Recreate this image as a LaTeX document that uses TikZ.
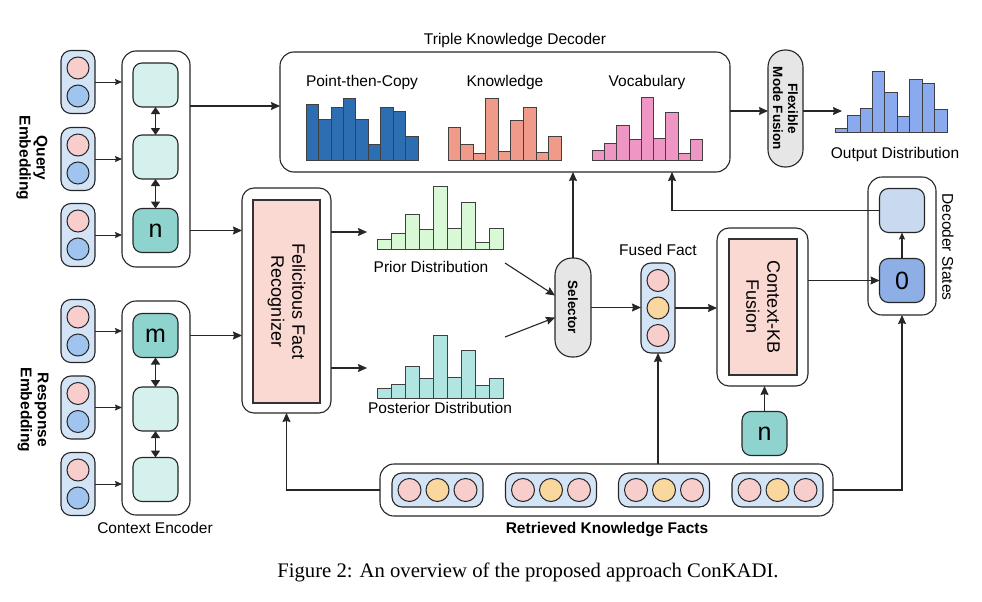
\documentclass[tikz,border=0pt]{standalone}
\usepackage{fontspec}
\setmainfont{Liberation Sans}
\newfontfamily\capfont{Liberation Serif}
\usetikzlibrary{arrows.meta,calc}
\definecolor{pillblue}{RGB}{212,228,247}
\definecolor{cpink}{RGB}{248,206,204}
\definecolor{cblue}{RGB}{160,196,240}
\definecolor{corange}{RGB}{249,215,158}
\definecolor{celllight}{RGB}{213,241,238}
\definecolor{celldark}{RGB}{142,211,206}
\definecolor{salmonbg}{RGB}{251,217,211}
\definecolor{graypill}{RGB}{230,230,230}
\definecolor{dslight}{RGB}{201,217,239}
\definecolor{dsdark}{RGB}{142,174,230}
\definecolor{barptc}{RGB}{45,110,178}
\definecolor{barkn}{RGB}{240,154,138}
\definecolor{barvoc}{RGB}{240,150,196}
\definecolor{barout}{RGB}{138,170,240}
\definecolor{barprior}{RGB}{216,248,214}
\definecolor{barpost}{RGB}{176,229,226}
\newcommand\drawbars[5]{\foreach \h [count=\i from 0] in {#5} {\draw[bar,fill=#4] ({#1+\i*#3},#2) rectangle ++(#3,-\h);}}
\begin{document}
\begin{tikzpicture}[x=1pt,y=-1pt,
  ln/.style={line width=1.1pt, draw=black!85},
  arr/.style={ln, -{Stealth[length=9pt,width=8pt,inset=1pt]}},
  sarr/.style={ln, line width=0.9pt, -{Stealth[length=7pt,width=6pt,inset=1pt]}},
  darr/.style={ln, line width=1.5pt, {Triangle[length=7pt,width=9pt]}-{Triangle[length=7pt,width=9pt]}},
  pill/.style={draw=black!85, line width=1.1pt, fill=pillblue, rounded corners=10pt, inner sep=0, outer sep=0},
  dot/.style={circle, draw=black!85, line width=1pt, minimum size=22pt, inner sep=0},
  frame/.style={draw=black!85, line width=1.1pt, rounded corners=14pt, inner sep=0, outer sep=0, fill=white},
  cell/.style={draw=black!85, line width=1.1pt, rounded corners=9pt, inner sep=0, outer sep=0, minimum width=45pt, minimum height=44pt, font=\fontsize{25}{28}\selectfont},
  inner/.style={draw=black!80, line width=1.1pt, fill=salmonbg, inner sep=0, outer sep=0},
  gpill/.style={draw=black!85, line width=1.1pt, fill=graypill, rounded corners=17pt, inner sep=0, outer sep=0},
  bar/.style={draw=black!75, line width=0.7pt},
  lab/.style={font=\fontsize{15.5}{18}\selectfont, inner sep=0},
  blab/.style={font=\bfseries\fontsize{15.5}{17}\selectfont, inner sep=0, align=center},
  big/.style={font=\fontsize{18}{21}\selectfont, inner sep=0, align=center, rotate=-90}
]
\useasboundingbox (0,0) rectangle (982,602);

% ---------- Query side ----------
\node[frame, minimum width=68pt, minimum height=216pt] (encq) at (156,159) {};
\node[frame, minimum width=68pt, minimum height=214pt] (encr) at (156,408) {};
\node[cell, fill=celllight] (qc1) at (155.5,85) {};
\node[cell, fill=celllight] (qc2) at (155.5,157) {};
\node[cell, fill=celldark] (qc3) at (155.5,230.5) {n};
\node[cell, fill=celldark] (rc1) at (155.5,335.5) {m};
\node[cell, fill=celllight] (rc2) at (155.5,409) {};
\node[cell, fill=celllight] (rc3) at (155.5,479.5) {};
\draw[darr] (qc1.south) -- (qc2.north);
\draw[darr] (qc2.south) -- (qc3.north);
\draw[darr] (rc1.south) -- (rc2.north);
\draw[darr] (rc2.south) -- (rc3.north);

\foreach \nm/\y in {q1/82, q2/159, q3/235, r1/331, r2/407.5, r3/484} {
  \node[pill, minimum width=34pt, minimum height=63pt] (\nm) at (78,\y) {};
  \node[dot, fill=cpink] (\nm a) at (78,\y-14) {};
  \node[dot, fill=cblue] (\nm b) at (78,\y+14) {};
}
\draw[sarr] (q1.east) -- (q1.east -| encq.west);
\draw[sarr] (q2.east) -- (q2.east -| encq.west);
\draw[sarr] (q3.east) -- (q3.east -| encq.west);
\draw[sarr] (r1.east) -- (r1.east -| encr.west);
\draw[sarr] (r2.east) -- (r2.east -| encr.west);
\draw[sarr] (r3.east) -- (r3.east -| encr.west);

\node[blab, rotate=-90] (qlab) at (32,158) {Query\\Embedding};
\node[blab, rotate=-90] (rlab) at (33,410) {Response\\Embedding};
\node[lab] (celab) at (155,528) {Context Encoder};

% ---------- Triple Knowledge Decoder ----------
\node[frame, minimum width=450pt, minimum height=120pt] (dec) at (505,112) {};
\node[lab] (declab) at (515,40) {Triple Knowledge Decoder};
\node[lab] (ptclab) at (362,82) {Point-then-Copy};
\node[lab] (knlab) at (505,82) {Knowledge};
\node[lab] (voclab) at (647,82) {Vocabulary};
\drawbars{306}{160}{12.45}{barptc}{56,41,53,62,41,16,53,49,24}
\drawbars{448}{160}{12.55}{barkn}{33,16,7,62,9,40,53,8,24}
\drawbars{592}{160}{12.3}{barvoc}{10,17,35,21,63,22,48,7,21}
\draw[arr] ([yshift=53pt]encq.east) -- ([yshift=6pt]dec.west);

% ---------- Flexible Mode Fusion ----------
\node[gpill, minimum width=35pt, minimum height=117pt] (flex) at (785.5,108.5) {};
\node[font=\bfseries\fontsize{13.5}{15}\selectfont, align=center, rotate=-90, inner sep=0] (flexlab) at (flex.center) {Flexible\\Mode Fusion};
\coordinate (outin) at (842,111);
\draw[arr] (dec.east |- outin) -- (flex.west |- outin);
\draw[arr] (flex.east |- outin) -- (outin);
\drawbars{835}{132}{12.45}{barout}{4,17,24,61,40,16,53,49,23}
\node[lab] (outlab) at (895,154) {Output Distribution};

% ---------- Decoder States ----------
\node[frame, minimum width=68pt, minimum height=138pt] (dso) at (902,246) {};
\node[cell, fill=dslight] (dtop) at (902,210.5) {};
\node[cell, fill=dsdark] (d0) at (902,280.5) {0};
\draw[sarr, line width=1.1pt] (d0.north) -- (dtop.south);
\node[lab, rotate=-90] (dslab) at (948,247) {Decoder States};
\draw[arr] (dtop.west) -| ([xshift=167pt]dec.south);

% ---------- Felicitous Fact Recognizer ----------
\node[frame, rounded corners=12pt, minimum width=89pt, minimum height=225pt] (ffro) at (286.5,300.5) {};
\node[inner, minimum width=67pt, minimum height=203pt] (ffri) at (286.5,301.5) {};
\node[big] (ffrlab) at (ffri.center) {Felicitous Fact\\Recognizer};
\draw[arr] (encq.east |- qc3.east) -- (ffro.west |- qc3.east);
\draw[arr] (encr.east |- rc1.east) -- (ffro.west |- rc1.east);

% ---------- Prior / Posterior ----------
\coordinate (priorin) at (367,232);
\coordinate (postin) at (367,368);
\draw[arr] (ffro.east |- priorin) -- (priorin);
\draw[arr] (ffro.east |- postin) -- (postin);
\drawbars{377}{249}{14}{barprior}{10,16,35,20,63,21,47,7,21}
\drawbars{377}{398}{14}{barpost}{10,14,32,20,63,21,48,13,20}
\node[lab] (priorlab) at (431,267) {Prior Distribution};
\node[lab] (postlab) at (440,408) {Posterior Distribution};

% ---------- Selector ----------
\node[gpill, minimum width=36pt, minimum height=99pt] (sel) at (573,307.5) {};
\node[font=\bfseries\fontsize{13.5}{15}\selectfont, rotate=-90, inner sep=0] (sellab) at (sel.center) {Selector};
\coordinate (priorout) at (505,263);
\coordinate (postout) at (505,337);
\draw[arr] (priorout) -- ([yshift=12pt]sel.west);
\draw[arr] (postout) -- ([yshift=-10pt]sel.west);
\draw[arr] (sel.north) -- (sel.north |- dec.south);

% ---------- Fused Fact ----------
\node[pill, minimum width=34pt, minimum height=90pt] (ff) at (658,308) {};
\node[dot, fill=cpink] (ffa) at (658,280.5) {};
\node[dot, fill=corange] (ffb) at (658,308) {};
\node[dot, fill=cpink] (ffc) at (658,335.5) {};
\node[lab] (fflab) at (658,250) {Fused Fact};
\draw[arr] (sel.east) -- (ff.west |- sel.east);

% ---------- Context-KB Fusion ----------
\node[frame, rounded corners=12pt, minimum width=91pt, minimum height=158pt] (ckb) at (762.5,307) {};
\node[inner, minimum width=68pt, minimum height=136pt] (ckbi) at (763,307) {};
\node[big] (ckblab) at (ckbi.center) {Context-KB\\Fusion};
\draw[arr] (ff.east) -- (ckb.west |- ff.east);
\draw[arr] (ckb.east |- d0.west) -- (d0.west);
\node[cell, fill=celldark] (n2) at (764.5,433.5) {n};
\draw[arr] (n2.north) -- (n2.north |- ckb.south);

% ---------- Retrieved Knowledge Facts ----------
\node[frame, minimum width=453pt, minimum height=52pt] (kf) at (606.5,490) {};
\foreach \nm/\x in {k1/437.5, k2/551, k3/664, k4/777.5} {
  \node[pill, minimum width=91pt, minimum height=34pt] (\nm) at (\x,490) {};
  \node[dot, minimum size=23pt, fill=cpink] (\nm a) at (\x-28,490) {};
  \node[dot, minimum size=23pt, fill=corange] (\nm b) at (\x,490) {};
  \node[dot, minimum size=23pt, fill=cpink] (\nm c) at (\x+28,490) {};
}
\node[blab] (kflab) at (607,530) {Retrieved Knowledge Facts};
\draw[arr] (ff.south |- kf.north) -- (ff.south);
\draw[arr] (kf.west) -| (ffro.south);
\draw[arr] (kf.east) -| (dso.south);

% ---------- Caption ----------
\node[font=\capfont\fontsize{20.7}{24}\selectfont, inner sep=0] (cap) at (528,572) {Figure 2: An overview of the proposed approach ConKADI.};
\end{tikzpicture}
\end{document}
